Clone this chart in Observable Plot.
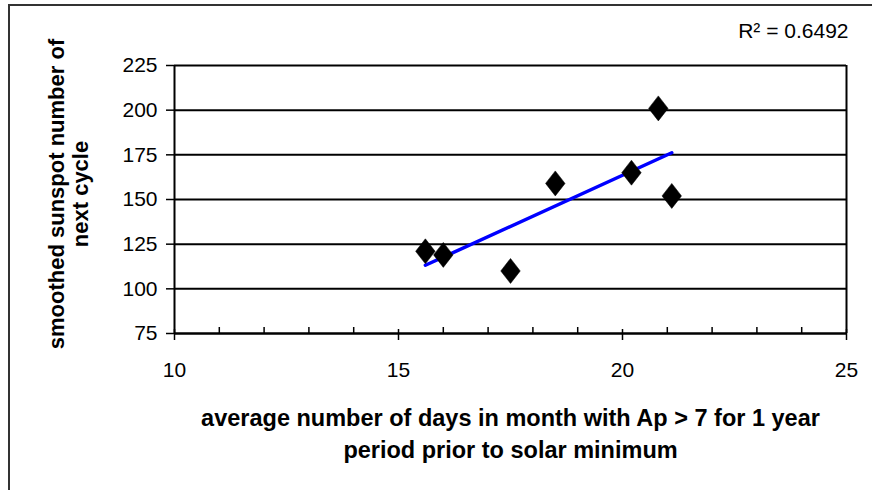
<!DOCTYPE html>
<html>
<head>
<meta charset="utf-8">
<script src="https://cdn.jsdelivr.net/npm/d3@7"></script>
<script src="https://cdn.jsdelivr.net/npm/@observablehq/plot@0.6"></script>
<style>
  html, body { margin: 0; padding: 0; background: #fff; }
  #chart svg { display: block; font-family: "Liberation Sans", Arial, sans-serif; }
</style>
</head>
<body>
<div id="chart"></div>
<script>
// Data
const apDays = [15.6, 16.0, 17.5, 18.5, 20.2, 20.8, 21.1];
const sunspotNext = [121, 119, 110, 159, 165, 201, 152];
const xTicks = [10, 15, 20, 25];
const xMinorTicks = [11, 12, 13, 14, 16, 17, 18, 19, 21, 22, 23, 24];
const yTicks = [75, 100, 125, 150, 175, 200, 225];
const rSquaredLabel = "R\u00B2 = 0.6492";
const xTitle = "average number of days in month with Ap > 7 for 1 year\nperiod prior to solar minimum";
const yTitle = "smoothed sunspot number of\nnext cycle";

const points = apDays.map((x, i) => ({x, y: sunspotNext[i]}));

// Excel-like diamond marker (slightly taller than wide)
const excelDiamond = {
  draw(context, size) {
    const r = Math.sqrt(size / Math.PI);
    const hw = r * 0.78;
    context.moveTo(0, -r);
    context.lineTo(hw, 0);
    context.lineTo(0, r);
    context.lineTo(-hw, 0);
    context.closePath();
  }
};

const tickFont = 21;
const xTitleFont = 23.5;
const yTitleFont = 22;

const chart = Plot.plot({
  width: 872,
  height: 490,
  marginLeft: 174,
  marginRight: 26,
  marginTop: 65,
  marginBottom: 157,
  style: {fontFamily: "Liberation Sans, Arial, sans-serif", color: "black", background: "white", overflow: "visible"},
  x: {domain: [10, 25]},
  y: {domain: [75, 225]},
  marks: [
    Plot.gridY(yTicks, {stroke: "black", strokeOpacity: 1, strokeWidth: 2}),
    Plot.ruleX([25], {stroke: "black", strokeWidth: 2}),
    Plot.ruleX([10], {stroke: "black", strokeWidth: 2}),
    Plot.ruleY([75], {stroke: "black", strokeWidth: 2}),
    // minor ticks (inside, above the axis)
    Plot.axisX(xMinorTicks, {tickSize: 6, dy: -6, tickFormat: () => "", label: null, strokeWidth: 1.5}),
    // major ticks crossing the axis
    Plot.axisX(xTicks, {tickSize: 11, dy: -4, tickFormat: () => "", label: null, strokeWidth: 1.5}),
    // x labels
    Plot.axisX(xTicks, {tickSize: 0, tickPadding: 29, fontSize: tickFont, label: null, tickFormat: d => String(d)}),
    // y ticks + labels
    Plot.axisY(yTicks, {tickSize: 8, tickPadding: 9, fontSize: tickFont, label: null, strokeWidth: 1.5, tickFormat: d => String(d)}),
    Plot.linearRegressionY(points, {x: "x", y: "y", stroke: "#0000ff", strokeWidth: 3.5, ci: 0}),
    Plot.dot(points, {x: "x", y: "y", symbol: excelDiamond, r: 12.5, fill: "black", stroke: "black", strokeWidth: 0.5}),
    Plot.text([rSquaredLabel], {frameAnchor: "top-right", textAnchor: "end", lineAnchor: "middle", dx: 2, dy: -34, fontSize: tickFont, fill: "black"}),
    Plot.text([xTitle], {frameAnchor: "bottom", textAnchor: "middle", lineAnchor: "middle", dy: 98, lineHeight: 1.36, fontSize: xTitleFont, fontWeight: "bold", fill: "black"}),
    Plot.text([yTitle], {frameAnchor: "left", textAnchor: "middle", lineAnchor: "middle", rotate: -90, dx: -106, dy: -5.5, lineHeight: 1.06, fontSize: yTitleFont, fontWeight: "bold", fill: "black"})
  ]
});

// outer chart-area border (Excel chart frame), partly cut off at right/bottom
d3.select(chart).insert("rect", ":first-child")
  .attr("x", 9).attr("y", 5).attr("width", 1000).attr("height", 1000)
  .attr("fill", "white").attr("stroke", "#333").attr("stroke-width", 2);

document.getElementById("chart").appendChild(chart);
</script>
</body>
</html>
